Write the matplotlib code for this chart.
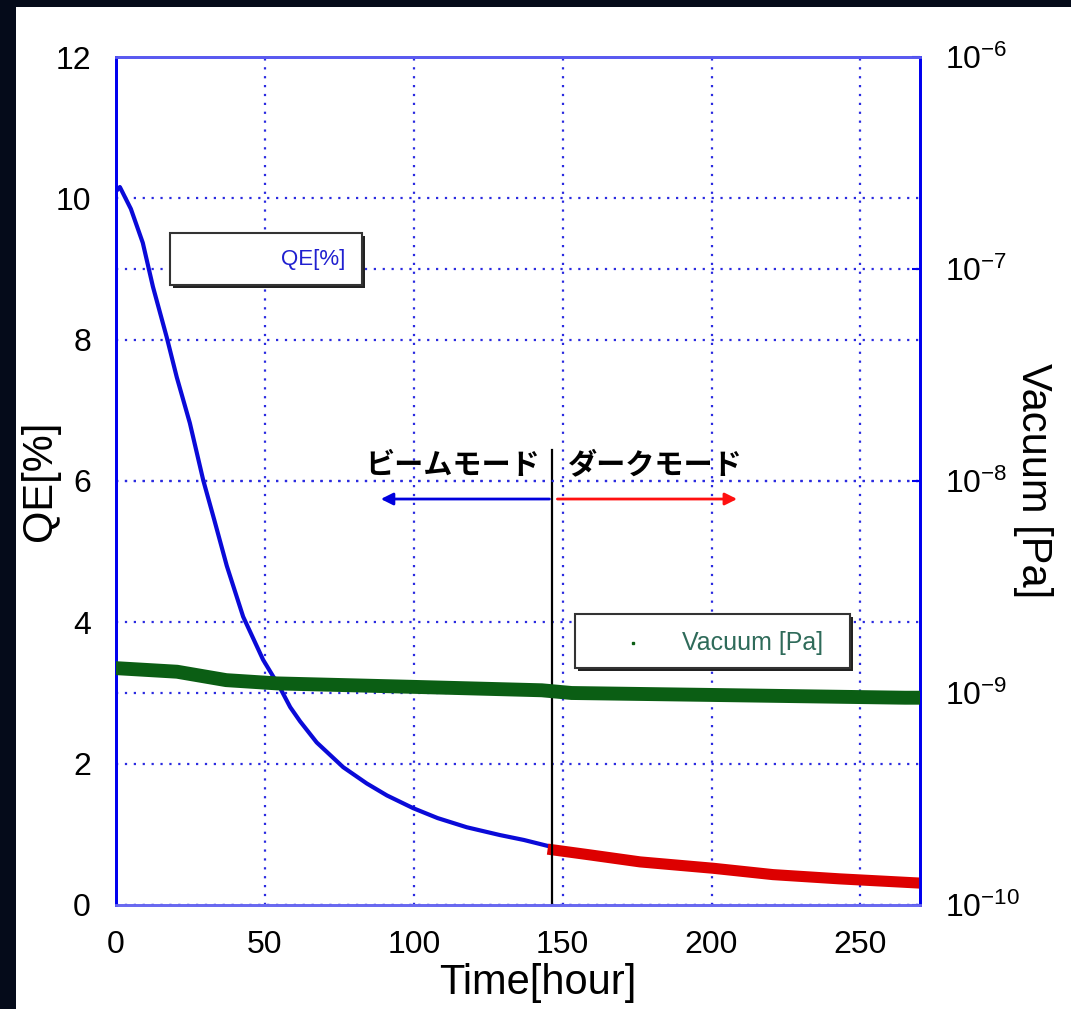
import matplotlib
matplotlib.use('Agg')
import matplotlib.pyplot as plt
from matplotlib.patches import Rectangle
from matplotlib.lines import Line2D

plt.rcParams['font.family'] = ['Liberation Sans', 'Noto Sans CJK JP', 'DejaVu Sans']
plt.rcParams['mathtext.fontset'] = 'custom'
plt.rcParams['mathtext.rm'] = 'Liberation Sans'
plt.rcParams['mathtext.default'] = 'regular'

# QE during beam mode (blue) [hour, %]
beam_t = [0, 1.3, 5, 9, 12.4, 17, 20.4, 24.8, 29.3, 33, 37.2, 42.7, 49.4, 55, 58.5, 61.8,
          67.4, 76.3, 84.2, 91, 99.8, 108, 117.8, 128.9, 137, 146.5]
beam_qe = [10.1, 10.16, 9.85, 9.37, 8.75, 8.04, 7.47, 6.82, 6.01, 5.45, 4.8, 4.08, 3.47,
           3.08, 2.8, 2.6, 2.3, 1.95, 1.72, 1.55, 1.37, 1.23, 1.10, 0.99, 0.92, 0.82]

# QE during dark mode (red)
dark_t = [146.8, 159, 176, 200.5, 220.6, 243, 270]
dark_qe = [0.78, 0.71, 0.61, 0.52, 0.43, 0.37, 0.31]

# vacuum (green) [hour, Pa]
vac_t = [0, 20.5, 37, 54, 98.7, 143, 153, 198, 265, 270]
vac_pa = [1.31e-9, 1.26e-9, 1.15e-9, 1.11e-9, 1.07e-9, 1.03e-9, 1.0e-9, 9.8e-10, 9.5e-10, 9.5e-10]

switch_t = 146.5
x_ticks = [0, 50, 100, 150, 200, 250]
qe_ticks = [0, 2, 4, 6, 8, 10, 12]
vac_ticks = [1e-10, 1e-9, 1e-8, 1e-7, 1e-6]
vac_labels = ['$10^{-10}$', '$10^{-9}$', '$10^{-8}$', '$10^{-7}$', '$10^{-6}$']

W, H = 1071, 1009
fig = plt.figure(figsize=(W / 100, H / 100), dpi=100, facecolor='#050b1a')
fig.patches.append(Rectangle((16 / W, 0), 1 - 16 / W, (H - 7) / H, transform=fig.transFigure,
                             facecolor='white', edgecolor='none', zorder=-10))

ax = fig.add_axes([116 / W, (H - 905) / H, 804 / W, 848 / H])
ax2 = ax.twinx()

grid_kw = dict(color='#2a2ae0', linestyle=(0, (1, 3)), linewidth=1.6)
ax.plot(beam_t, beam_qe, color='#0a0ad8', linewidth=3, zorder=3)
ax.plot(dark_t, dark_qe, color='#dd0000', linewidth=8, zorder=3)
ax.axvline(switch_t, ymin=0, ymax=6.44 / 12, color='black', linewidth=1.6, zorder=4)

ax.set_xlim(0, 270)
ax.set_ylim(0, 12)
ax.set_xticks(x_ticks)
ax.set_yticks(qe_ticks)
ax.grid(True, **grid_kw)
ax.set_axisbelow(True)
ax.tick_params(axis='both', length=0, labelsize=23, pad=18)
ax.tick_params(axis='x', pad=18)

ax2.plot(vac_t, vac_pa, color='#0b5e14', linewidth=10, zorder=3)
ax2.set_yscale('log')
ax2.set_ylim(1e-10, 1e-6)
ax2.set_yticks(vac_ticks)
ax2.set_yticklabels(vac_labels)
ax2.minorticks_off()
ax2.yaxis.grid(True, **grid_kw)
ax2.tick_params(axis='y', direction='in', length=6, width=1.5, color='#0000ee',
                labelsize=23, pad=18)

for a in (ax, ax2):
    a.spines['left'].set_color('#0000ee')
    a.spines['right'].set_color('#0000ee')
    a.spines['top'].set_color('#5a5af0')
    a.spines['bottom'].set_color('#6a6af0')
    for s in a.spines.values():
        s.set_linewidth(2)

ax.set_xlabel('Time[hour]', fontsize=30, labelpad=4)
ax.xaxis.set_label_coords(0.525, -0.068)
ax.set_ylabel('QE[%]', fontsize=30, labelpad=-3)
ax2.set_ylabel('Vacuum [Pa]', fontsize=30, rotation=270, labelpad=24)

# mode annotations
ax.text(113, 6.23, 'ビームモード', fontsize=21, fontweight='bold', ha='center', va='center',
        family=['Noto Sans CJK JP'], zorder=5)
ax.text(181, 6.23, 'ダークモード', fontsize=21, fontweight='bold', ha='center', va='center',
        family=['Noto Sans CJK JP'], zorder=5)
ax.annotate('', xy=(88, 5.745), xytext=(switch_t, 5.745),
            arrowprops=dict(arrowstyle='-|>', color='#0000dd', lw=2, mutation_scale=18))
ax.annotate('', xy=(209.5, 5.745), xytext=(switch_t + 0.8, 5.745),
            arrowprops=dict(arrowstyle='-|>', color='#ff1010', lw=2, mutation_scale=18))


def legend_box(a, x0, y0, x1, y1):
    off_x, off_y = 3 / 804, 3 / 848
    a.add_patch(Rectangle((x0 + off_x, y0 - off_y), x1 - x0, y1 - y0, transform=a.transAxes,
                          facecolor='#222222', edgecolor='none', zorder=6))
    a.add_patch(Rectangle((x0, y0), x1 - x0, y1 - y0, transform=a.transAxes,
                          facecolor='white', edgecolor='#333333', linewidth=1.5, zorder=7))


legend_box(ax2, 0.067, 0.731, 0.306, 0.792)
ax2.text(0.285, 0.761, 'QE[%]', transform=ax2.transAxes, fontsize=16, color='#2020d0',
         ha='right', va='center', zorder=8)

legend_box(ax2, 0.571, 0.279, 0.913, 0.343)
ax2.add_line(Line2D([0.643], [0.309], transform=ax2.transAxes, marker='s', markersize=2,
                    color='#0b5e14', linestyle='none', zorder=8))
ax2.text(0.704, 0.309, 'Vacuum [Pa]', transform=ax2.transAxes, fontsize=18, color='#2f6b5a',
         ha='left', va='center', zorder=8)

fig.savefig('out.png', dpi=100, facecolor=fig.get_facecolor())
